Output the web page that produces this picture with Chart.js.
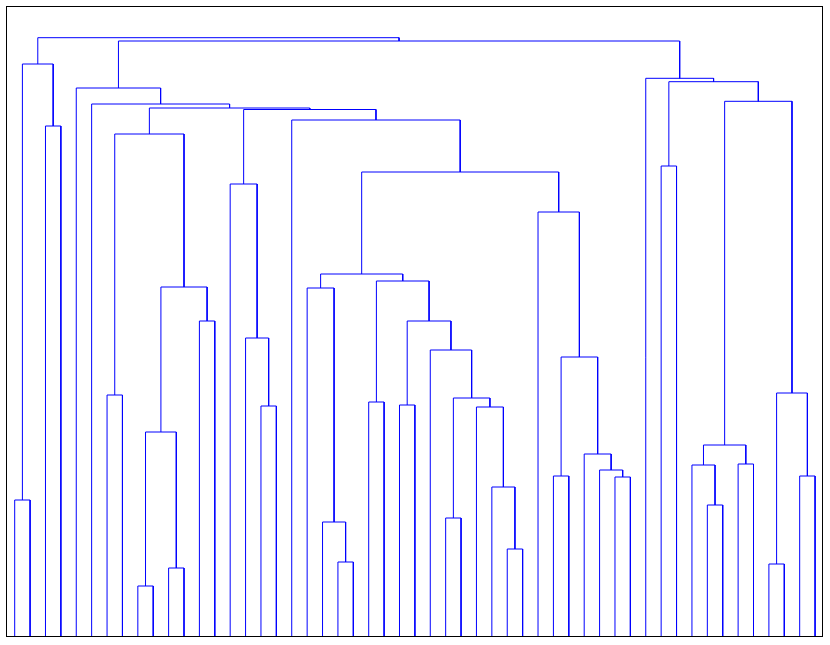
<!DOCTYPE html>
<html>
<head>
<meta charset="utf-8">
<title>Dendrogram</title>
<script src="https://cdn.jsdelivr.net/npm/chart.js@4/dist/chart.umd.min.js"></script>
<style>
  html, body { margin: 0; padding: 0; background: #ffffff; }
  #chart-wrap { width: 830px; height: 645px; position: relative; }
</style>
</head>
<body>
<div id="chart-wrap"><canvas id="dendrogram"></canvas></div>
<script>
// leaves are numbered 0..52 from left to right; merge k creates node 53 + k
const leafCount = 53;

const mergeLeft = [
  0, 2, 53, 6, 8, 10, 57, 12, 59, 56,
  16, 15, 14, 21, 20, 19, 23, 25, 28, 32,
  31, 30, 71, 27, 70, 69, 68, 35, 39, 38,
  37, 80, 34, 79, 18, 65, 62, 5, 4, 42,
  45, 44, 47, 94, 49, 51, 97, 96, 92, 41,
  91, 55,
];

const mergeRight = [
  1, 3, 54, 7, 9, 11, 58, 13, 60, 61,
  17, 63, 64, 22, 66, 67, 24, 26, 29, 33,
  72, 73, 74, 75, 76, 77, 78, 36, 40, 81,
  82, 83, 84, 85, 86, 87, 88, 89, 90, 43,
  46, 93, 48, 95, 50, 52, 98, 99, 100, 101,
  102, 103,
];

const mergeHeight = [
  136, 510, 572, 241, 50, 68, 204, 315, 349, 502,
  230, 298, 452, 74, 114, 348, 234, 231, 118, 87,
  149, 229, 238, 286, 315, 355, 362, 160, 159, 166,
  182, 279, 424, 464, 516, 526.5, 528, 532, 548, 470,
  131, 171, 172, 191, 72, 160, 243, 534.7, 554.3, 557.7,
  595, 598.3,
];

const lineColor = '#0000ff';

function buildLinks() {
  const nodeX = [];
  const nodeY = [];
  for (let i = 0; i < leafCount; i++) {
    nodeX.push(i);
    nodeY.push(0);
  }

  const links = [];
  mergeHeight.forEach((height, k) => {
    const a = mergeLeft[k];
    const b = mergeRight[k];
    links.push([
      { x: nodeX[a], y: nodeY[a] },
      { x: nodeX[a], y: height },
      { x: nodeX[b], y: height },
      { x: nodeX[b], y: nodeY[b] },
    ]);
    nodeX.push((nodeX[a] + nodeX[b]) / 2);
    nodeY.push(height);
  });
  return links;
}

const framePlugin = {
  id: 'frame',
  afterDraw(chart) {
    const { ctx, chartArea } = chart;
    ctx.save();
    ctx.strokeStyle = '#000000';
    ctx.lineWidth = 1;
    ctx.strokeRect(
      Math.round(chartArea.left) - 0.5,
      Math.round(chartArea.top) - 0.5,
      Math.round(chartArea.right - chartArea.left) + 1,
      Math.round(chartArea.bottom - chartArea.top) + 1
    );
    ctx.restore();
  },
};

const datasets = buildLinks().map((points) => ({
  data: points,
  showLine: true,
  borderColor: lineColor,
  borderWidth: 1,
  pointRadius: 0,
  pointHoverRadius: 0,
  tension: 0,
  fill: false,
}));

new Chart(document.getElementById('dendrogram'), {
  type: 'scatter',
  data: { datasets },
  options: {
    responsive: true,
    maintainAspectRatio: false,
    animation: false,
    events: [],
    layout: { padding: { left: 7, right: 8, top: 7, bottom: 9 } },
    plugins: {
      legend: { display: false },
      tooltip: { enabled: false },
    },
    scales: {
      x: { type: 'linear', min: -0.5, max: 52.45, display: false },
      y: { type: 'linear', min: 0, max: 629, display: false },
    },
  },
  plugins: [framePlugin],
});
</script>
</body>
</html>
